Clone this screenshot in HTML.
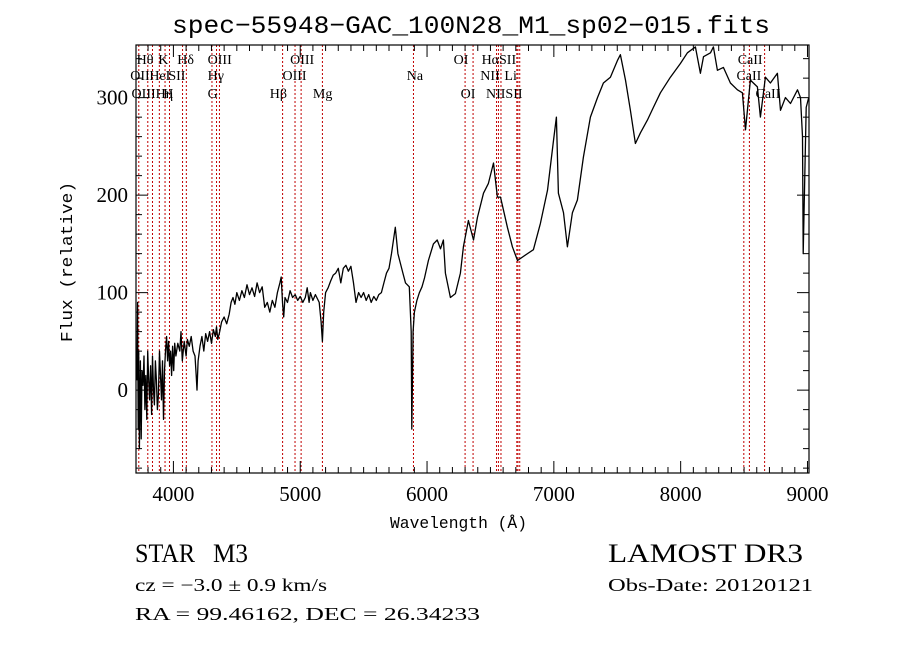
<!DOCTYPE html>
<html><head><meta charset="utf-8"><style>
html,body{margin:0;padding:0;background:#fff;}
svg{display:block;}
text{font-family:"Liberation Serif",serif;fill:#000;}
.m{font-family:"Liberation Mono",monospace;}
</style></head><body>
<svg id="chart" width="900" height="649" viewBox="0 0 900 649" xmlns="http://www.w3.org/2000/svg">
<rect width="900" height="649" fill="#fff"/>
<text class="m" x="172" y="33" font-size="25" textLength="598" lengthAdjust="spacingAndGlyphs">spec−55948−GAC_100N28_M1_sp02−015.fits</text>
<g id="lines"></g>
<g id="labels"></g>
<path id="spec" fill="none" stroke="#000" stroke-width="1.3" stroke-linejoin="round"/>
<rect x="136" y="45" width="673" height="428" fill="none" stroke="#000" stroke-width="1.2"/>
<g id="axes"></g>
<text class="m" x="390" y="528" font-size="17" textLength="137" lengthAdjust="spacingAndGlyphs">Wavelength (Å)</text>
<text class="m" font-size="17" transform="translate(72,342) rotate(-90)" textLength="160" lengthAdjust="spacingAndGlyphs">Flux (relative)</text>
<text x="135" y="562" font-size="26" textLength="60" lengthAdjust="spacingAndGlyphs">STAR</text>
<text x="213" y="562" font-size="26" textLength="35" lengthAdjust="spacingAndGlyphs">M3</text>
<text x="135" y="591" font-size="18" textLength="192" lengthAdjust="spacingAndGlyphs">cz = −3.0 ± 0.9 km/s</text>
<text x="135" y="620" font-size="18" textLength="345" lengthAdjust="spacingAndGlyphs">RA =  99.46162, DEC =  26.34233</text>
<text x="608" y="562" font-size="26" textLength="195" lengthAdjust="spacingAndGlyphs">LAMOST DR3</text>
<text x="608" y="591" font-size="18" textLength="205" lengthAdjust="spacingAndGlyphs">Obs-Date: 20120121</text>
</svg>
<script>
const wavelengths=[3712,3718,3722,3726,3732,3740,3746,3752,3760,3768,3775,3782,3790,3797,3805,3812,3820,3828,3835,3843,3850,3858,3866,3874,3882,3890,3898,3906,3914,3922,3930,3938,3946,3954,3962,3970,3978,3986,3994,4002,4010,4020,4035,4050,4060,4070,4085,4100,4110,4125,4140,4155,4170,4180,4186,4195,4210,4225,4240,4255,4270,4285,4300,4315,4330,4340,4350,4365,4380,4400,4420,4440,4455,4470,4485,4500,4520,4540,4560,4580,4600,4620,4640,4660,4680,4700,4720,4740,4760,4780,4800,4820,4840,4850,4860,4870,4880,4900,4920,4940,4960,4980,5000,5020,5040,5055,5070,5080,5100,5120,5150,5165,5175,5185,5200,5220,5240,5260,5280,5300,5320,5340,5360,5380,5400,5420,5440,5460,5480,5500,5520,5540,5560,5580,5600,5620,5640,5660,5680,5700,5720,5750,5770,5790,5810,5830,5860,5875,5880,5890,5900,5920,5940,5960,5980,6011,6050,6080,6106,6129,6145,6184,6224,6263,6287,6326,6366,6397,6445,6484,6524,6555,6579,6634,6673,6713,6792,6839,6894,6950,6997,7020,7036,7076,7107,7146,7186,7233,7288,7344,7391,7446,7501,7525,7565,7604,7643,7683,7738,7785,7840,7919,7998,8053,8116,8156,8180,8235,8258,8290,8337,8392,8447,8487,8511,8550,8605,8629,8668,8708,8763,8787,8826,8866,8921,8945,8961,8966,8990,9010];
const fluxes=[10,90,-40,40,-60,30,-50,20,5,35,-20,15,-30,40,10,-10,25,-25,35,0,-15,30,10,-20,-5,40,15,-10,30,-30,20,40,55,30,50,25,40,15,45,20,48,35,48,40,60,30,50,35,52,45,55,40,35,15,0,30,45,55,40,58,50,60,48,62,55,65,52,60,70,75,68,78,90,95,88,100,92,102,95,108,98,105,96,110,100,106,85,90,80,92,85,100,110,116,90,75,95,90,102,95,98,92,96,90,95,105,90,100,92,98,90,70,50,80,100,105,112,118,120,125,110,125,128,122,127,110,90,100,95,100,92,98,90,96,92,98,100,110,120,125,140,167,140,130,120,110,106,60,-40,60,80,92,100,106,115,133,150,154,145,154,120,95,99,120,147,174,154,177,202,212,233,198,198,167,147,133,140,144,171,205,256,280,202,182,147,182,195,239,280,300,315,321,338,344,318,287,253,264,277,290,305,321,335,346,352,325,342,346,352,328,331,315,308,305,267,318,311,280,321,315,325,287,300,294,308,300,260,140,290,300];
const lineWaves=[3727,3798,3835,3889,3934,3969,4072,4102,4304,4340,4363,4861,4959,5007,5175,5893,6300,6363,6548,6563,6583,6708,6717,6731,8498,8542,8662];
const labelTexts=["Hθ","K","Hδ","OIII","OIII","OI","HαSII","OII","HeI","SII","Hγ","OIII","Na","NII","Li","OIII","Hη","H","G","Hβ","Mg","OI","NIISII","CaII","CaII","CaII"];
const labelWaves=[3710,3880,4030,4270,4920,6210,6430,3660,3810,3960,4270,4860,5840,6420,6610,3670,3860,3920,4270,4760,5100,6265,6465,8450,8440,8590];
const labelRows=[0,0,0,0,0,0,0,1,1,1,1,1,1,1,1,2,2,2,2,2,2,2,2,0,1,2];
const xTicks=[4000,5000,6000,7000,8000,9000];
const yTicks=[0,100,200,300];
const X0=136,X1=809,Y0=45,Y1=473;
const xmin=3705,xmax=9012,ymin=-85,ymax=354;
const sx=v=>X0+(v-xmin)/(xmax-xmin)*(X1-X0);
const sy=v=>Y1-(v-ymin)/(ymax-ymin)*(Y1-Y0);
const NS="http://www.w3.org/2000/svg";
function mk(tag,attrs,parent){const e=document.createElementNS(NS,tag);for(const k in attrs)e.setAttribute(k,attrs[k]);parent.appendChild(e);return e;}
let d="";
wavelengths.forEach((w,i)=>{const y=Math.max(Y0,Math.min(Y1,sy(fluxes[i])));d+=(i?"L":"M")+sx(w).toFixed(1)+" "+y.toFixed(1);});
document.getElementById("spec").setAttribute("d",d);
const lg=document.getElementById("lines");
lineWaves.forEach(w=>{const l=mk("line",{x1:sx(w),x2:sx(w),y1:Y0,y2:Y1,stroke:"#c00000","stroke-width":1,"stroke-dasharray":"2,2"},lg);

});
const lb=document.getElementById("labels");
const rowY=[64,80,98];
labelTexts.forEach((t,i)=>{const e=mk("text",{x:sx(labelWaves[i]),y:rowY[labelRows[i]],"font-size":14},lb);e.textContent=t;

});
const ax=document.getElementById("axes");
for(let w=3800;w<=9000;w+=100){const big=w%1000===0;const x=sx(w);const L=big?12:6;
mk("line",{x1:x,x2:x,y1:Y1,y2:Y1-L,stroke:"#000"},ax);mk("line",{x1:x,x2:x,y1:Y0,y2:Y0+L,stroke:"#000"},ax);}
xTicks.forEach(v=>{const t=mk("text",{x:sx(v),y:501,"font-size":21,"text-anchor":"middle"},ax);t.textContent=v;

});
for(let v=-80;v<=340;v+=20){const big=v%100===0;const y=sy(v);const L=big?12:6;
mk("line",{x1:X0,x2:X0+L,y1:y,y2:y,stroke:"#000"},ax);mk("line",{x1:X1,x2:X1-L,y1:y,y2:y,stroke:"#000"},ax);}
yTicks.forEach(v=>{const t=mk("text",{x:X0-8,y:sy(v)+7,"font-size":21,"text-anchor":"end"},ax);t.textContent=v;

});
</script>
</body></html>
